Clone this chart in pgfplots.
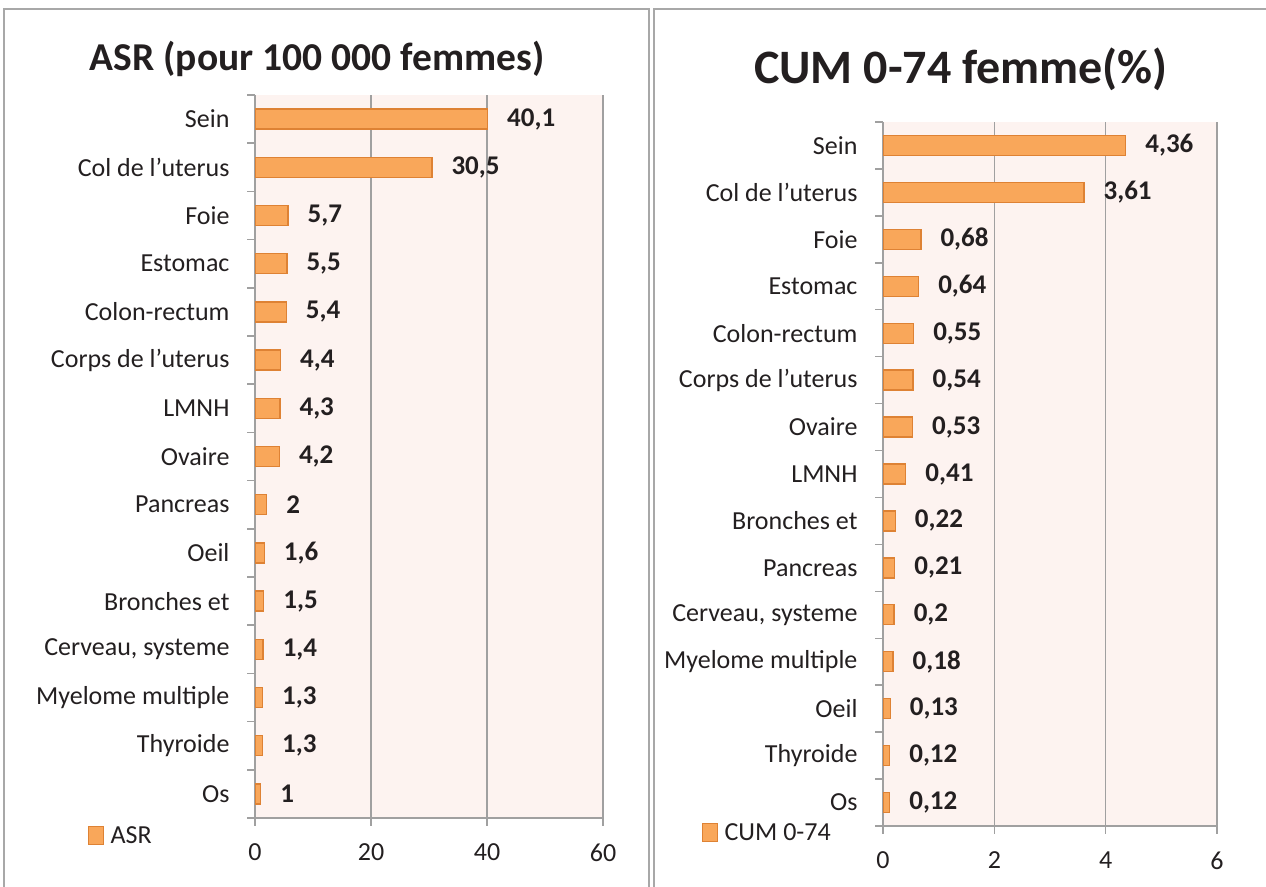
\documentclass[border=0pt]{standalone}
\usepackage{fontspec}
\setmainfont{Carlito}
\usepackage{pgfplots}
\pgfplotsset{compat=1.18}

\definecolor{barfill}{RGB}{249,167,90}
\definecolor{baredge}{RGB}{222,130,52}
\definecolor{plotbg}{RGB}{253,243,240}
\definecolor{gridgray}{RGB}{160,160,160}
\definecolor{framegray}{RGB}{168,168,168}
\definecolor{txt}{RGB}{35,31,32}

\newcommand{\catfont}{\fontsize{26}{31}\selectfont}

\pgfplotsset{
  panel/.style={
    xbar, scale only axis,
    axis x line=bottom, axis y line=left,
    axis line style={draw=gridgray, line width=1.5pt, -},
    axis background/.style={fill=plotbg},
    ymin=-0.5, ymax=14.5,
    ytick={0,...,14},
    minor ytick={-0.5,0.5,...,14.5},
    major y tick style={draw=none},
    minor y tick style={draw=gridgray, line width=1.5pt},
    minor tick length=8pt,
    major x tick style={draw=gridgray, line width=1.5pt},
    major tick length=8pt,
    tick align=outside,
    xmajorgrids,
    major x grid style={draw=gridgray, line width=1.5pt},
    ticklabel style={font=\catfont, text=txt},
    yticklabel style={xshift=-14pt},
    xticklabel style={yshift=-14pt},
    /pgf/number format/assume math mode=true,
    bar width=20pt,
    point meta=x,
    nodes near coords={\pgfmathprintnumber[use comma]{\pgfplotspointmeta}},
    every node near coord/.style={anchor=west, inner sep=0pt, xshift=19pt,
      font=\bfseries\fontsize{27}{32}\selectfont, text=txt},
    legend image code/.code={\draw[fill=barfill, draw=baredge, line width=1.3pt]
      (0pt,-9pt) rectangle (15pt,9pt);},
    legend style={draw=none, fill=none, inner sep=0pt, outer sep=0pt,
      font=\catfont, text=txt, anchor=west,
      /tikz/every even column/.append style={column sep=0pt}},
  },
  barstyle/.style={fill=barfill, draw=baredge, line width=1.3pt},
}

\begin{document}
\begin{tikzpicture}[x=1pt,y=1pt]
\useasboundingbox (0,0) rectangle (1266,886);
% panel frames
\draw[framegray, line width=1.5pt] (4,877) rectangle (649,-10);
\draw[framegray, line width=1.5pt] (654,877) rectangle (1280,-10);

% titles
\node[anchor=base, font=\bfseries\fontsize{39.5}{46}\selectfont, text=txt] at (317,815) {ASR (pour 100 000 femmes)};
\node[anchor=base, font=\bfseries\fontsize{48}{56}\selectfont, text=txt] at (961,802) {CUM 0-74 femme(\%)};

% left panel
\begin{axis}[panel,
  at={(255pt,68pt)}, anchor=south west,
  width=348pt, height=723pt,
  xmin=0, xmax=60, xtick={0,20,40,60},
  yticklabels={Os, Thyroide, Myelome multiple, {Cerveau, systeme}, Bronches et, Oeil, Pancreas, Ovaire, LMNH, Corps de l’uterus, Colon-rectum, Estomac, Foie, Col de l’uterus, Sein},
  legend style={at={(-0.48,-0.024)}},
]
\addplot[barstyle] coordinates {
  (1,0) (1.3,1) (1.3,2) (1.4,3) (1.5,4) (1.6,5) (2,6) (4.2,7)
  (4.3,8) (4.4,9) (5.4,10) (5.5,11) (5.7,12) (30.5,13) (40.1,14)
};
\addlegendentry{\,ASR}
\end{axis}

% right panel
\begin{axis}[panel,
  at={(883pt,60pt)}, anchor=south west,
  width=334pt, height=704pt,
  xmin=0, xmax=6, xtick={0,2,4,6},
  yticklabels={Os, Thyroide, Oeil, Myelome multiple, {Cerveau, systeme}, Pancreas, Bronches et, LMNH, Ovaire, Corps de l’uterus, Colon-rectum, Estomac, Foie, Col de l’uterus, Sein},
  legend style={at={(-0.542,-0.009)}},
]
\addplot[barstyle] coordinates {
  (0.12,0) (0.12,1) (0.13,2) (0.18,3) (0.2,4) (0.21,5) (0.22,6) (0.41,7)
  (0.53,8) (0.54,9) (0.55,10) (0.64,11) (0.68,12) (3.61,13) (4.36,14)
};
\addlegendentry{\,CUM 0-74}
\end{axis}
\end{tikzpicture}
\end{document}
